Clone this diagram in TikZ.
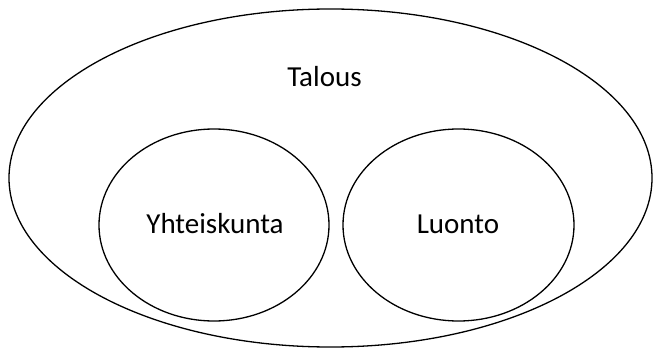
\documentclass[tikz,border=0pt]{standalone}
\usepackage{fontspec}
\setmainfont{Carlito}
\begin{document}
\begin{tikzpicture}[x=1pt,y=1pt,
  ring/.style={draw=black,line width=1.3pt},
  lbl/.style={anchor=base,font=\fontsize{29}{33}\selectfont,inner sep=0pt}]
\useasboundingbox (0,0) rectangle (654,349);
\draw[ring] (330.5,171) ellipse [x radius=321.5, y radius=169];
\draw[ring] (214,124) ellipse [x radius=115, y radius=96];
\draw[ring] (458.5,124) ellipse [x radius=115.5, y radius=96];
\node[lbl] (talous) at (324.5,262) {Talous};
\node[lbl] (yht) at (215,116) {Yhteiskunta};
\node[lbl] (luonto) at (458,116) {Luonto};
\end{tikzpicture}
\end{document}
